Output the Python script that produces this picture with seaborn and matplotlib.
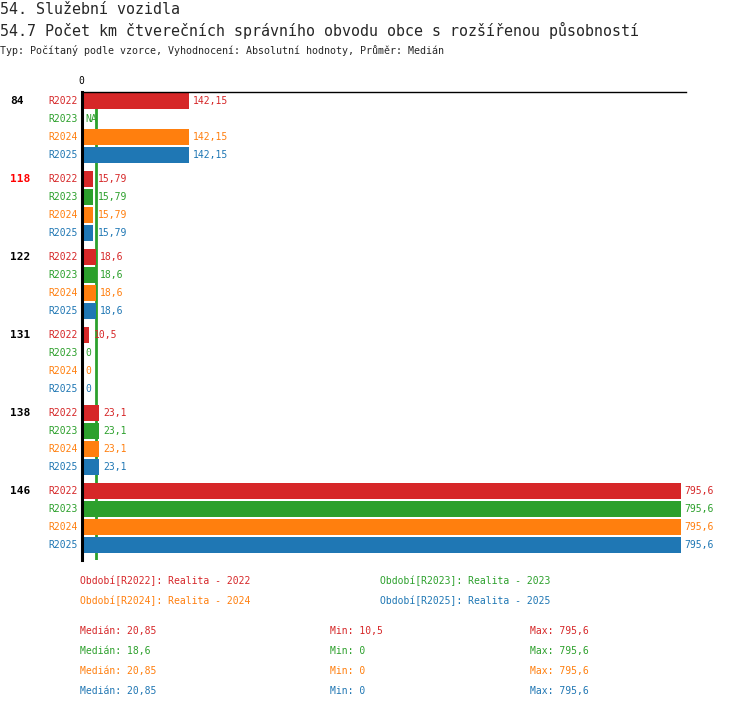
import numpy as np
import pandas as pd
import matplotlib
matplotlib.use("Agg")
import matplotlib.pyplot as plt
import seaborn as sns

# data
groups = ["84", "118", "122", "131", "138", "146"]
periods = ["R2022", "R2023", "R2024", "R2025"]
values = {
    "R2022": [142.15, 15.79, 18.6, 10.5, 23.1, 795.6],
    "R2023": [np.nan, 15.79, 18.6, 0, 23.1, 795.6],
    "R2024": [142.15, 15.79, 18.6, 0, 23.1, 795.6],
    "R2025": [142.15, 15.79, 18.6, 0, 23.1, 795.6],
}
highlight_group = "118"
median_line = 18.6
legend_labels = ["Období[R2022]: Realita - 2022", "Období[R2023]: Realita - 2023",
                 "Období[R2024]: Realita - 2024", "Období[R2025]: Realita - 2025"]
medians = ["20,85", "18,6", "20,85", "20,85"]
mins = ["10,5", "0", "0", "0"]
maxs = ["795,6", "795,6", "795,6", "795,6"]
colors = ["#d62728", "#2ca02c", "#ff7f0e", "#1f77b4"]

title1 = "54. Služební vozidla"
title2 = "54.7 Počet km čtverečních správního obvodu obce s rozšířenou působností"
subtitle = "Typ: Počítaný podle vzorce, Vyhodnocení: Absolutní hodnoty, Průměr: Medián"

W, H = 750, 710
GROUP_STEP = 78 / 18  # in row units

rows = []
for gi, g in enumerate(groups):
    for pi, p in enumerate(periods):
        rows.append({"group": g, "period": p, "pos": gi * GROUP_STEP + pi,
                     "value": values[p][gi]})
df = pd.DataFrame(rows)


def fmt(v):
    if np.isnan(v):
        return "NA"
    s = f"{v:.2f}".rstrip("0").rstrip(".")
    return s.replace(".", ",")


sns.set_style("white")
plt.rcParams["font.family"] = ["DejaVu Sans Mono"]

fig = plt.figure(figsize=(W / 100, H / 100), dpi=100)


def px(x, y):
    return x / W, 1 - y / H


x0, x1 = 81.5, 686
y0, y1 = 92, 560
ax = fig.add_axes([x0 / W, 1 - y1 / H, (x1 - x0) / W, (y1 - y0) / H])
xmax = 795.6 * (x1 - x0) / 599.0

ax.axvline(median_line, color="#2ca02c", lw=2, zorder=0)
plot_df = df.dropna(subset=["value"])
sns.barplot(data=plot_df, x="value", y="pos", hue="period", hue_order=periods,
            palette=colors, orient="h", native_scale=True, dodge=False,
            width=16 / 18, legend=False, ax=ax, saturation=1, linewidth=0,
            zorder=2)
ax.set_xlim(0, xmax)
ax.set_ylim(25.5, -0.5)
ax.set_xticks([])
ax.set_yticks([])
ax.set_xlabel("")
ax.set_ylabel("")
for s in ["right", "bottom"]:
    ax.spines[s].set_visible(False)
ax.spines["top"].set_linewidth(1)
ax.spines["top"].set_color("black")
ax.spines["left"].set_linewidth(2.2)
ax.spines["left"].set_color("black")
ax.spines["left"].set_zorder(5)

fs = 7
for _, r in df.iterrows():
    c = colors[periods.index(r["period"])]
    v = r["value"]
    xv = 0 if np.isnan(v) else v
    ax.annotate(fmt(v), (xv, r["pos"]), xytext=(3, 0), textcoords="offset points",
                va="center", ha="left", color=c, fontsize=fs)
    ax.annotate(r["period"], (0, r["pos"]), xytext=(-3, 0), textcoords="offset points",
                va="center", ha="right", color=c, fontsize=fs)

# group labels at the far left of the figure
trans = matplotlib.transforms.blended_transform_factory(fig.transFigure, ax.transData)
for gi, g in enumerate(groups):
    ax.text(10 / W, gi * GROUP_STEP, g, transform=trans, va="center", ha="left",
            fontsize=8, fontweight="bold",
            color="red" if g == highlight_group else "black")

ax.annotate("0", (0, -0.5), xytext=(0, 4), textcoords="offset points",
            ha="center", va="bottom", fontsize=fs, color="black",
            annotation_clip=False)

fig.text(*px(0, 9), title1, fontsize=10.8, va="center", ha="left")
fig.text(*px(0, 30), title2, fontsize=10.8, va="center", ha="left")
fig.text(*px(0, 50), subtitle, fontsize=7.2, va="center", ha="left")

leg_pos = [(80, 581), (380, 581), (80, 601), (380, 601)]
for (lx, ly), lab, c in zip(leg_pos, legend_labels, colors):
    fig.text(*px(lx, ly), lab, fontsize=fs, color=c, va="center", ha="left")

for i, c in enumerate(colors):
    ly = 631 + 20 * i
    fig.text(*px(80, ly), f"Medián: {medians[i]}", fontsize=fs, color=c, va="center")
    fig.text(*px(330, ly), f"Min: {mins[i]}", fontsize=fs, color=c, va="center")
    fig.text(*px(530, ly), f"Max: {maxs[i]}", fontsize=fs, color=c, va="center")

fig.savefig("out.png", dpi=100)
